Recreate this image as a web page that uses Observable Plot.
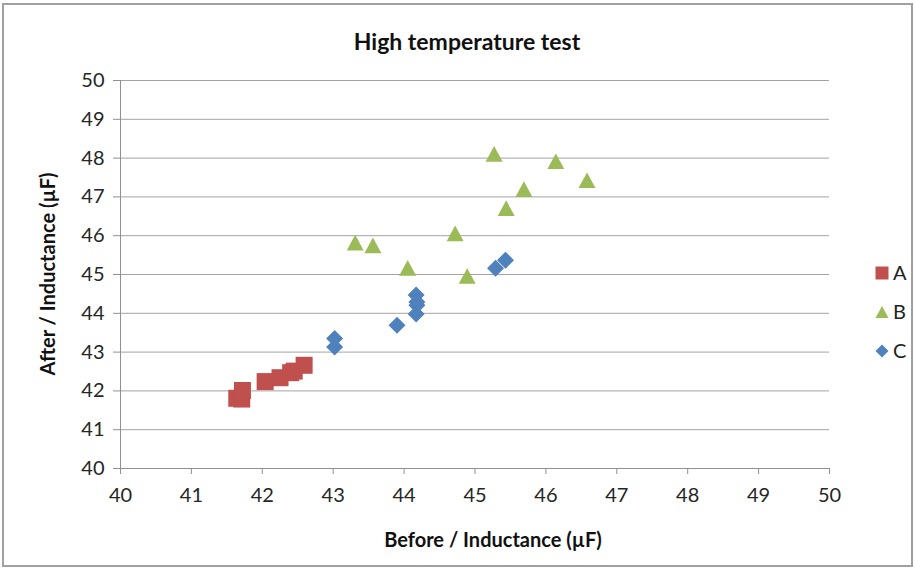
<!DOCTYPE html>
<html>
<head>
<meta charset="utf-8">
<script src="https://cdn.jsdelivr.net/npm/d3@7"></script>
<script src="https://cdn.jsdelivr.net/npm/@observablehq/plot@0.6"></script>
<style>
  html, body { margin: 0; padding: 0; background: #fff; }
  #chart { position: relative; width: 915px; height: 568px; overflow: hidden; font-family: Lato, "Open Sans", sans-serif; }
  #chart > svg.plot-main { position: absolute; left: 0; top: 0; }
  #frame { position: absolute; left: 2px; top: 3px; width: 911px; height: 564px; box-sizing: border-box; border: 2px solid #a0a0a0; pointer-events: none; }
  .lbl { position: absolute; white-space: nowrap; color: #111; font-weight: 700; transform: translate(-50%, -50%); line-height: 1; }
  #title { left: 467px; top: 41px; font-size: 23px; }
  #xlabel { left: 493px; top: 539px; font-size: 20px; }
  #ylabel { left: 47px; top: 274px; font-size: 20px; transform: translate(-50%, -50%) rotate(-90deg); }
  #chart > svg#legend { position: absolute; left: 862px; top: 254px; }
</style>
</head>
<body>
<div id="chart">
  <div id="frame"></div>
  <div class="lbl" id="title">High temperature test</div>
  <div class="lbl" id="xlabel">Before / Inductance (µF)</div>
  <div class="lbl" id="ylabel">After / Inductance (µF)</div>
</div>
<script>
// Axis ticks (µF)
const ticks = [40, 41, 42, 43, 44, 45, 46, 47, 48, 49, 50];

// Series A: before / after inductance
const aBefore = [41.64, 41.71, 41.72, 42.04, 42.25, 42.40, 42.45, 42.59];
const aAfter  = [41.81, 41.79, 42.01, 42.24, 42.34, 42.47, 42.51, 42.66];

// Series B
const bBefore = [43.31, 43.56, 44.05, 44.72, 44.89, 45.27, 45.44, 45.69, 46.14, 46.58];
const bAfter  = [45.82, 45.75, 45.17, 46.06, 44.96, 48.11, 46.71, 47.20, 47.92, 47.43];

// Series C
const cBefore = [43.02, 43.02, 43.90, 44.17, 44.18, 44.18, 44.17, 45.29, 45.43];
const cAfter  = [43.35, 43.13, 43.69, 44.47, 44.29, 44.21, 43.98, 45.16, 45.37];

// Marker shapes centred on their bounding box; half-size comes from Plot's r
const half = size => Math.sqrt(size / Math.PI);
const squareSym = { draw(ctx, size) { const r = half(size);
  ctx.moveTo(-r, -r); ctx.lineTo(r, -r); ctx.lineTo(r, r); ctx.lineTo(-r, r); ctx.closePath(); } };
const triangleSym = { draw(ctx, size) { const r = half(size);
  ctx.moveTo(0, -0.92 * r); ctx.lineTo(r, 0.92 * r); ctx.lineTo(-r, 0.92 * r); ctx.closePath(); } };
const diamondSym = { draw(ctx, size) { const r = half(size);
  ctx.moveTo(0, -r); ctx.lineTo(r, 0); ctx.lineTo(0, r); ctx.lineTo(-r, 0); ctx.closePath(); } };

const series = [
  { name: "A", before: aBefore, after: aAfter, color: "#C0504D", symbol: squareSym },
  { name: "B", before: bBefore, after: bAfter, color: "#9BBB59", symbol: triangleSym },
  { name: "C", before: cBefore, after: cAfter, color: "#4F81BD", symbol: diamondSym }
];

const gridColor = "#a3a3a3";
const axisColor = "#909090";

const chart = Plot.plot({
  width: 915,
  height: 568,
  marginLeft: 120,
  marginRight: 86,
  marginTop: 80,
  marginBottom: 100,
  x: { domain: [40, 50] },
  y: { domain: [40, 50] },
  style: { fontFamily: "Lato, 'Open Sans', sans-serif", background: "transparent", overflow: "visible" },
  marks: [
    Plot.ruleY(ticks.slice(1), { stroke: gridColor }),
    Plot.ruleY([40], { stroke: axisColor }),
    Plot.ruleX([40], { stroke: axisColor }),
    Plot.axisX({ ticks, tickSize: 6, tickPadding: 13, stroke: axisColor, fill: "#262626", fontSize: 20, label: null }),
    Plot.axisY({ ticks, tickSize: 7, tickPadding: 9, stroke: axisColor, fill: "#262626", fontSize: 20, label: null }),
    ...series.map(s => Plot.dot(d3.zip(s.before, s.after), {
      x: d => d[0], y: d => d[1], r: 8.5, symbol: s.symbol, fill: s.color
    }))
  ]
});
chart.classList.add("plot-main");
document.getElementById("chart").prepend(chart);

// Legend: one row per series
const legend = d3.select("#chart").append("svg")
  .attr("id", "legend").attr("width", 53).attr("height", 120);
const rows = legend.selectAll("g").data(series).join("g")
  .attr("transform", (d, i) => `translate(20,${19 + i * 39})`);
rows.append("path")
  .attr("d", d => d3.symbol(d.symbol, 6.5 * 6.5 * Math.PI)())
  .attr("fill", d => d.color);
rows.append("text")
  .attr("x", 11).attr("dy", "0.36em")
  .attr("font-family", "Lato, 'Open Sans', sans-serif").attr("font-size", 20).attr("fill", "#222")
  .text(d => d.name);
</script>
</body>
</html>
